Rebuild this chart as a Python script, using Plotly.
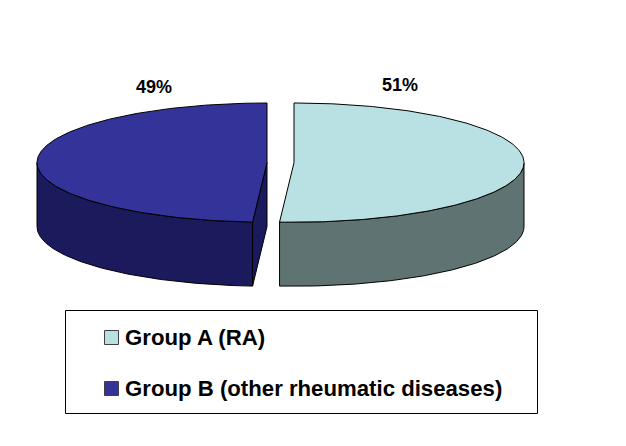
import numpy as np
import plotly.graph_objects as go

categories = ["Group A (RA)", "Group B (other rheumatic diseases)"]
values = [51, 49]
top_colors = ["#b9e1e3", "#333399"]
side_colors = ["#607373", "#1a1a5c"]
label_pos = [(399.5, 85), (154, 87)]

W, H = 626, 446
PAGE_MARGIN = 8  # the page's default body margin
CX = 280.5
EXPLODE = 13.5
CY = 162.6
A, B = 230, 59.6
DEPTH = 64

def pt(th, cx, cy):
    th = np.asarray(th, dtype=float)
    return cx + A * np.sin(th), cy - B * np.cos(th)

fig = go.Figure()
def poly(x, y, color):
    fig.add_trace(go.Scatter(x=list(x) + [x[0]], y=list(y) + [y[0]], mode="lines",
                             fill="toself", fillcolor=color,
                             line=dict(color="#000000", width=1),
                             hoverinfo="skip", showlegend=False))

total = sum(values)
start = 0.0
for i, v in enumerate(values):
    sweep = 2 * np.pi * v / total
    t0, t1 = start, start + sweep
    start = t1
    cx = CX + (EXPLODE if i == 0 else -EXPLODE)
    ts = np.linspace(t0, t1, 240)
    # outer wall: the part of the arc facing the viewer
    wall = ts[np.cos(ts) <= 0]
    xt, yt = pt(wall, cx, CY)
    xb, yb = pt(wall, cx, CY + DEPTH)
    poly(np.r_[xt, xb[::-1]], np.r_[yt, yb[::-1]], side_colors[i])
    # cut face of the left slice shows through the gap
    if i == 1:
        xe, ye = pt(t0, cx, CY)
        poly([cx, xe, xe, cx], [CY, ye, ye + DEPTH, CY + DEPTH], side_colors[i])
    x, y = pt(ts, cx, CY)
    poly(np.r_[cx, x], np.r_[CY, y], top_colors[i])

    lx, ly = label_pos[i]
    fig.add_annotation(x=lx, y=ly, text=f"<b>{v}%</b>", showarrow=False,
                       font=dict(family="Liberation Sans", size=18, color="#000000"))

# legend
fig.add_shape(type="rect", x0=65.5, y0=310.5, x1=537.5, y1=413.5,
              line=dict(color="#000000", width=1), fillcolor="#ffffff", layer="below")
leg_y = [337.5, 388.5]
for c, col, y in zip(categories, top_colors, leg_y):
    fig.add_trace(go.Scatter(x=[111.5], y=[y], mode="markers",
                             marker=dict(symbol="square", size=14, color=col,
                                         line=dict(color="#404040", width=1)),
                             hoverinfo="skip", showlegend=False))
    fig.add_annotation(x=123, y=y, text=f"<b>{c}</b>", xanchor="left", showarrow=False,
                       font=dict(family="Liberation Sans", size=22.2, color="#000000"))

fig.update_layout(width=W, height=H, autosize=False, margin=dict(l=0, r=0, t=0, b=0),
                  paper_bgcolor="#ffffff", plot_bgcolor="#ffffff", showlegend=False,
                  xaxis=dict(range=[PAGE_MARGIN, W + PAGE_MARGIN], visible=False, fixedrange=True),
                  yaxis=dict(range=[H + PAGE_MARGIN, PAGE_MARGIN], visible=False, fixedrange=True))
fig.write_html("out.html", config=dict(displayModeBar=False))
